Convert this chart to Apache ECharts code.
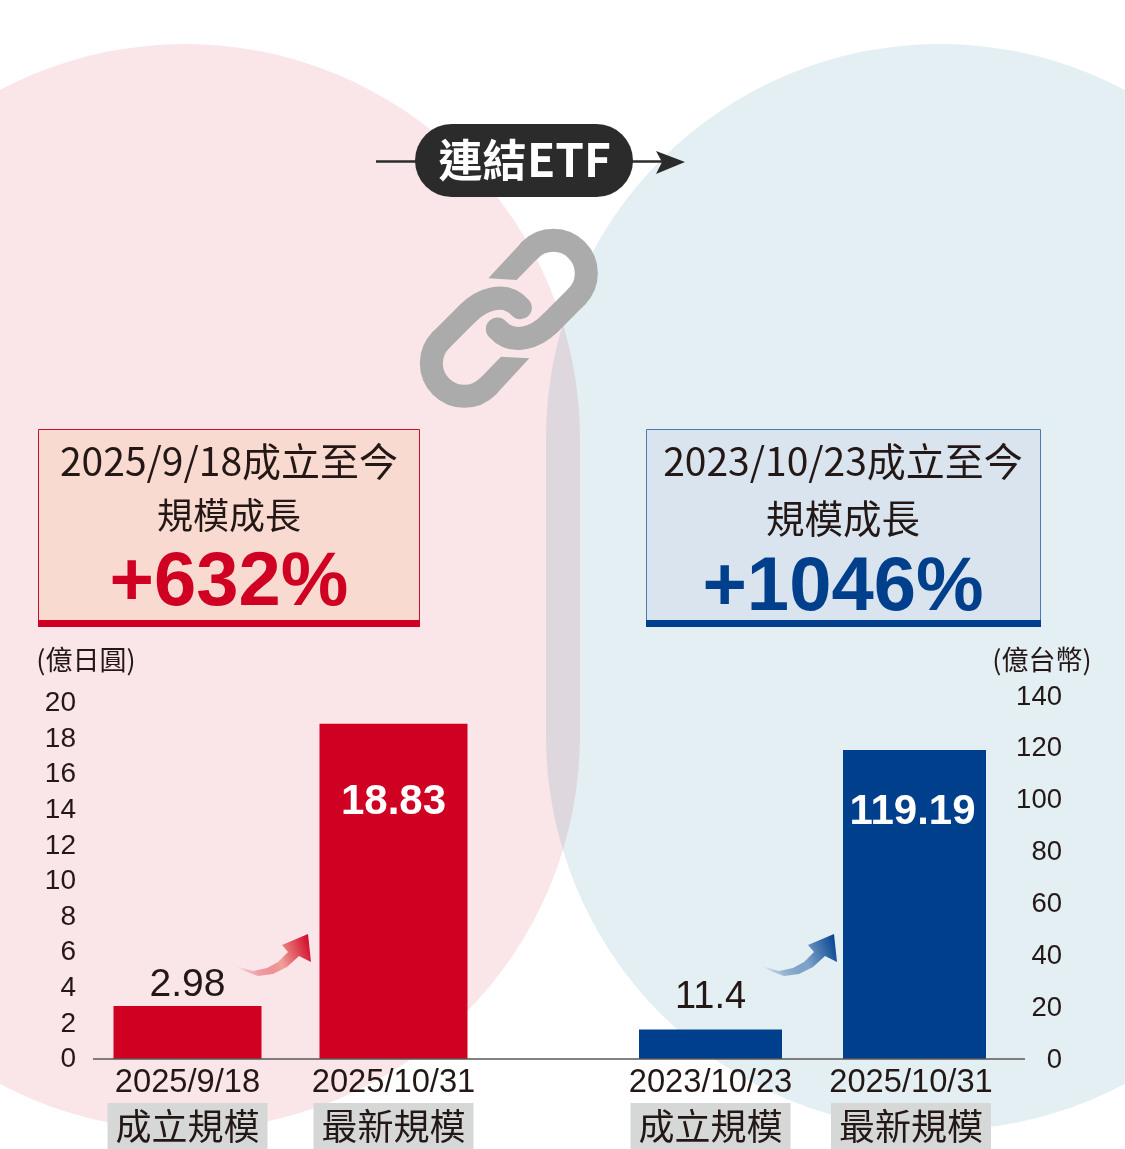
<!DOCTYPE html>
<html><head><meta charset="utf-8">
<style>html,body{margin:0;padding:0;background:#fff}#c{width:1125px;height:1149px}</style>
<script src="https://cdn.jsdelivr.net/npm/echarts@6/dist/echarts.min.js"></script>
</head><body><div id="c"></div>
<script>
const leftDates = ['2025/9/18', '2025/10/31'];
const leftTags = ['成立規模', '最新規模'];
const leftValues = [2.98, 18.83];
const rightDates = ['2023/10/23', '2025/10/31'];
const rightTags = ['成立規模', '最新規模'];
const rightValues = [11.4, 119.19];
const leftUnit = '(億日圓)';
const rightUnit = '(億台幣)';
const RED = '#D00023', BLUE = '#003F8C', INK = '#231815';
const SANS = '"Liberation Sans","Noto Sans CJK TC",sans-serif';
const CJK = '"Noto Sans CJK TC",sans-serif';

function txt(x, y, text, size, fill, weight, family) {
  return {type:'text', x, y, z:5, style:{text, fontSize:size, fill, fontWeight:weight||'normal',
    fontFamily:family||CJK, align:'center', verticalAlign:'middle'}};
}
// chain link, authored in a 3x space then mapped to the page
function link(flip) {
  const P = (x,y)=> flip ? [360+(893-x)/3, 110+(1250-y)/3] : [360+x/3, 110+y/3];
  const st = {stroke:'#ABABAB', lineWidth:23, fill:null, lineCap:'round'};
  const a = P(580,490), off = flip ? Math.PI : 0;
  const l1 = P(650,560), l2 = P(570,640), c1 = P(530,680), c2 = P(460,710), e = P(412,657);
  const poly = [P(385,505),P(486,396),P(534,444),P(470,510)];
  return [
    {type:'polygon', z:3, shape:{points:poly}, style:{fill:'#ABABAB'}},
    {type:'arc', z:3, shape:{cx:a[0], cy:a[1], r:33, startAngle:-3*Math.PI/4+off, endAngle:Math.PI/4+off, clockwise:true}, style:{...st}},
    {type:'line', z:3, shape:{x1:l1[0],y1:l1[1],x2:l2[0],y2:l2[1]}, style:{...st}},
    {type:'bezierCurve', z:3, shape:{x1:l2[0],y1:l2[1],cpx1:c1[0],cpy1:c1[1],cpx2:c2[0],cpy2:c2[1],x2:e[0],y2:e[1]}, style:{...st}}
  ];
}
function arrow(dx, color, mid) {
  const pts = [[235,966],[253,971],[267,968],[278,962],[288,952],[282,945],[308,934],[311,962],[299,956],[287,967],[273,974],[258,976],[247,972]]
    .map(p=>[p[0]+dx,p[1]]);
  return {type:'polygon', z:3, shape:{points:pts}, style:{
    fill:new echarts.graphic.LinearGradient(0,0.75,1,0.1,[
      {offset:0,color:color+'00'},{offset:0.55,color:mid},{offset:1,color:color}])}};
}
function xAxisOf(gridIndex, dates, tags, shifts) {
  return {type:'category', gridIndex,
    data:dates.map((d,i)=>({value:d+'|'+tags[i], textStyle:{padding:shifts[i]}})),
    axisLine:{show:false}, axisTick:{show:false},
    axisLabel:{interval:0, margin:4, color:INK, hideOverlap:false,
      formatter:v=>{const p=v.split('|');return '{d|'+p[0]+'}\n{t|'+p[1]+'}';},
      rich:{
        d:{fontSize:32.7, fontFamily:SANS, color:INK, height:40, lineHeight:40, align:'center'},
        t:{fontSize:36, fontFamily:CJK, color:INK, backgroundColor:'#D6D8D8', height:46, lineHeight:46, padding:[0,8,0,8], align:'center'}
      }}};
}
function yAxisOf(gridIndex, max, interval, position, margin, size, lineHeight, name, nameGap, namePad) {
  return {type:'value', gridIndex, min:0, max, interval, position,
    axisLine:{show:false}, axisTick:{show:false}, splitLine:{show:false},
    axisLabel:{fontSize:size, fontFamily:SANS, color:INK, align:'right', margin, verticalAlign:'top', lineHeight},
    name, nameLocation:'end', nameGap,
    nameTextStyle:{fontSize:27, fontFamily:CJK, color:INK, padding:namePad}};
}
function barSeries(xi, values, color, labels) {
  return {type:'bar', xAxisIndex:xi, yAxisIndex:xi, barWidth:xi?143:148, z:4,
    itemStyle:{color}, animation:false,
    data:values.map((v,i)=>({value:v, label:labels[i]}))};
}
const chart = echarts.init(document.getElementById('c'), null, {renderer:'canvas'});
chart.setOption({
  animation:false, backgroundColor:'#fff',
  grid:[
    {left:84.5, width:412, top:703, bottom:90},
    {left:608.5, width:408, top:696, bottom:90}
  ],
  xAxis:[xAxisOf(0,leftDates,leftTags,[0,0]), xAxisOf(1,rightDates,rightTags,[0,[0,7,0,0]])],
  yAxis:[
    yAxisOf(0,20,2,'left',8.5,28,1,leftUnit,30,[0,0,0,3]),
    yAxisOf(1,140,20,'right',45.5,27.5,2,rightUnit,23,[0,0,0,51])
  ],
  series:[
    barSeries(0,leftValues,RED,[
      {show:true,position:'top',distance:1,fontSize:39,fontFamily:SANS,color:INK},
      {show:true,position:'insideTop',distance:58,fontSize:42,fontWeight:'bold',fontFamily:SANS,color:'#fff'}]),
    barSeries(1,rightValues,BLUE,[
      {show:true,position:'top',distance:13,fontSize:38,fontFamily:SANS,color:INK},
      {show:true,position:'insideTop',distance:41,offset:[-2,0],fontSize:42,fontWeight:'bold',fontFamily:SANS,color:'#fff'}])
  ],
  graphic:{elements:[
    {type:'rect', z:0, shape:{x:-210,y:44,width:790,height:1086,r:395}, style:{fill:'#FAE6E9'}},
    {type:'rect', z:0, shape:{x:546,y:44,width:788,height:1086,r:394}, style:{fill:'#E3EFF3', blend:'multiply'}},
    // header pill and arrow
    {type:'line', z:3, shape:{x1:376,y1:161.5,x2:420,y2:161.5}, style:{stroke:'#2B2B2B',lineWidth:2.5}},
    {type:'line', z:3, shape:{x1:630,y1:161.5,x2:664,y2:161.5}, style:{stroke:'#2B2B2B',lineWidth:2.5}},
    {type:'polygon', z:3, shape:{points:[[656,151],[685,162],[656,174],[662,162]]}, style:{fill:'#2B2B2B'}},
    {type:'rect', z:4, shape:{x:415,y:124,width:218,height:73,r:36.5}, style:{fill:'#2B2B2B'}},
    txt(482.5,160,'連結',44,'#fff','bold'),
    {type:'text', x:527, y:160, z:5, style:{text:'ETF',fontSize:46,fill:'#fff',fontWeight:'bold',fontFamily:CJK,align:'left',verticalAlign:'middle'}},
    // chain
    ...link(false), ...link(true),
    // left callout
    {type:'rect', z:3, shape:{x:38.5,y:429.5,width:381,height:197}, style:{fill:'#F9DAD1',stroke:'#C8102E',lineWidth:1}},
    {type:'rect', z:3, shape:{x:38,y:620,width:382,height:7}, style:{fill:RED}},
    txt(229,461,'2025/9/18成立至今',39,INK),
    txt(229,515,'規模成長',36,INK),
    txt(229,584,'+632%',76,RED,'bold',SANS),
    // right callout
    {type:'rect', z:3, shape:{x:646.5,y:429.5,width:394,height:197}, style:{fill:'#DAE4EE',stroke:'#4A78B0',lineWidth:1}},
    {type:'rect', z:3, shape:{x:646,y:620,width:395,height:7}, style:{fill:BLUE}},
    txt(843,461,'2023/10/23成立至今',39,INK),
    txt(843,518,'規模成長',38.5,INK),
    txt(843,589,'+1046%',76,BLUE,'bold',SANS),
    // growth arrows
    arrow(0,'#D00023','#F0A098'),
    arrow(526,'#003F8C','#7FA3CB'),
    // baseline
    {type:'line', z:6, shape:{x1:93,y1:1059,x2:1025,y2:1059}, style:{stroke:'#595757',lineWidth:1.5}}
  ]}
});
</script></body></html>
